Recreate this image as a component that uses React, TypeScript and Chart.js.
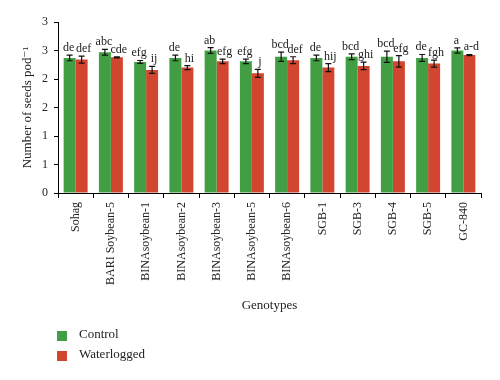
import React, { useEffect, useRef } from 'react';
import { Chart, registerables } from 'chart.js';

Chart.register(...registerables);

const categories = [
  'Sohag', 'BARI Soybean-5', 'BINAsoybean-1', 'BINAsoybean-2', 'BINAsoybean-3', 'BINAsoybean-5',
  'BINAsoybean-6', 'SGB-1', 'SGB-3', 'SGB-4', 'SGB-5', 'GC-840',
];
const controlValues = [2.37, 2.47, 2.30, 2.37, 2.50, 2.31, 2.39, 2.37, 2.39, 2.39, 2.37, 2.50];
const waterloggedValues = [2.34, 2.38, 2.16, 2.20, 2.31, 2.10, 2.33, 2.20, 2.23, 2.31, 2.27, 2.42];
const controlErrors = [0.05, 0.05, 0.025, 0.05, 0.05, 0.04, 0.08, 0.05, 0.05, 0.1, 0.06, 0.045];
const waterloggedErrors = [0.06, 0.01, 0.06, 0.035, 0.04, 0.07, 0.06, 0.07, 0.065, 0.1, 0.06, 0.01];
const controlLetters = ['de', 'abc', 'efg', 'de', 'ab', 'efg', 'bcd', 'de', 'bcd', 'bcd', 'de', 'a'];
const waterloggedLetters = ['def', 'cde', 'ij', 'hi', 'efg', 'j', 'def', 'hij', 'ghi', 'efg', 'fgh', 'a-d'];

const GREEN = '#419e43';
const RED = '#d2452f';
const SERIF = '"Liberation Serif", "DejaVu Serif", serif';

const errorPlugin = {
  id: 'errorBarsLetters',
  afterDatasetsDraw(chart: any) {
    const ctx = chart.ctx;
    const yScale = chart.scales.y;
    const errs = [controlErrors, waterloggedErrors];
    const letters = [controlLetters, waterloggedLetters];
    const shift = [-1, 2];
    chart.data.datasets.forEach((ds: any, i: number) => {
      const meta = chart.getDatasetMeta(i);
      meta.data.forEach((el: any, j: number) => {
        const v = ds.data[j];
        const e = errs[i][j];
        const x = el.x;
        const yT = yScale.getPixelForValue(v + e);
        const yB = yScale.getPixelForValue(v - e);
        ctx.save();
        ctx.strokeStyle = '#111';
        ctx.lineWidth = 1.2;
        ctx.beginPath();
        ctx.moveTo(x, yT);
        ctx.lineTo(x, yB);
        ctx.moveTo(x - 3, yT);
        ctx.lineTo(x + 3, yT);
        ctx.moveTo(x - 3, yB);
        ctx.lineTo(x + 3, yB);
        ctx.stroke();
        ctx.fillStyle = '#222';
        ctx.font = `12px ${SERIF}`;
        ctx.textAlign = 'center';
        ctx.textBaseline = 'alphabetic';
        ctx.fillText(letters[i][j], x + shift[i], yT - 4);
        ctx.restore();
      });
    });
  },
};

const legendPlugin = {
  id: 'customLegend',
  afterDraw(chart: any) {
    const ctx = chart.ctx;
    ctx.save();
    chart.data.datasets.forEach((ds: any, i: number) => {
      const y = 336 + i * 20;
      ctx.fillStyle = ds.backgroundColor;
      ctx.fillRect(57, y - 5, 10, 10);
      ctx.fillStyle = '#222';
      ctx.font = `13px ${SERIF}`;
      ctx.textAlign = 'left';
      ctx.textBaseline = 'middle';
      ctx.fillText(ds.label, 79, y - 1);
    });
    ctx.restore();
  },
};

export default function App() {
  const ref = useRef<HTMLCanvasElement | null>(null);
  useEffect(() => {
    if (!ref.current) return;
    const chart = new Chart(ref.current, {
      type: 'bar',
      data: {
        labels: categories,
        datasets: [
          { label: 'Control', data: controlValues, backgroundColor: GREEN, borderWidth: 0 },
          { label: 'Waterlogged', data: waterloggedValues, backgroundColor: RED, borderWidth: 0 },
        ],
      },
      options: {
        animation: false,
        responsive: false,
        maintainAspectRatio: false,
        layout: { padding: { left: 0, right: 19, top: 22, bottom: 67 } },
        datasets: { bar: { categoryPercentage: 0.68, barPercentage: 1.0 } },
        plugins: {
          legend: { display: false },
          tooltip: { enabled: false },
        },
        scales: {
          x: {
            afterFit: (s: any) => { s.height = 120; },
            grid: { display: true, drawOnChartArea: false, offset: true, tickLength: 5, color: '#000' },
            border: { color: '#000', width: 1 },
            ticks: {
              autoSkip: false, minRotation: 90, maxRotation: 90, padding: 4,
              color: '#222', font: { family: SERIF, size: 12 },
            },
            title: {
              display: true, text: 'Genotypes', color: '#222',
              font: { family: SERIF, size: 13 }, padding: { top: 0, bottom: 0 },
            },
          },
          y: {
            min: 0, max: 3,
            afterFit: (s: any) => { s.width = 58; },
            grid: { display: true, drawOnChartArea: false, tickLength: 4, color: '#000' },
            border: { color: '#000', width: 1 },
            ticks: {
              stepSize: 0.5, padding: 6, color: '#222', font: { family: SERIF, size: 12 },
              callback: (v: any) => String(Math.round(Number(v))),
            },
            title: {
              display: true, text: 'Number of seeds pod⁻¹', color: '#222',
              font: { family: SERIF, size: 13 }, padding: { top: 20, bottom: 0 },
            },
          },
        },
      },
      plugins: [errorPlugin, legendPlugin],
    });
    return () => chart.destroy();
  }, []);
  return (
    <div style={{ position: 'fixed', left: 0, top: 0, width: 500, height: 380, background: '#fff' }}>
      <canvas ref={ref} width={500} height={380} style={{ width: 500, height: 380 }} />
    </div>
  );
}
